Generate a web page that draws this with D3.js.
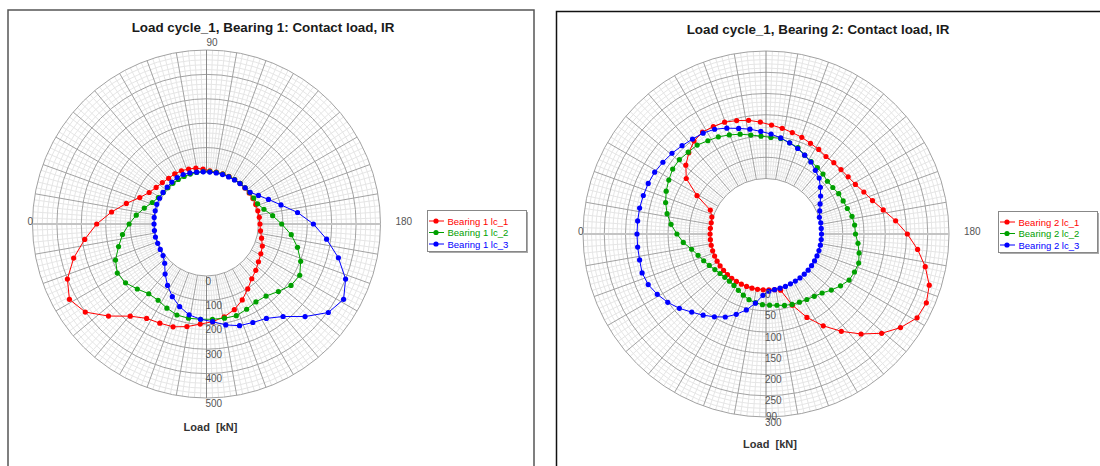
<!DOCTYPE html>
<html>
<head>
<meta charset="utf-8">
<script src="https://cdn.jsdelivr.net/npm/d3@7"></script>
<style>
body { margin: 0; background: #fff; }
text { font-family: "Liberation Sans", Arial, sans-serif; }
</style>
</head>
<body>
<script>
var w = 1100;
var h = 466;

// Bearing 1: roller angle (deg) and contact load (kN)
var b1Angles = [0,7.2,14.4,21.6,28.8,36,43.2,50.4,57.6,64.8,72,79.2,86.4,93.6,100.8,108,115.2,122.4,129.6,136.8,
  144,151.2,158.4,165.6,172.8,180,187.2,194.4,201.6,208.8,216,223.2,230.4,237.6,244.8,252,259.2,266.4,273.6,280.8,
  288,295.2,302.4,309.6,316.8,324,331.2,338.4,345.6,352.8];
var b1Lc1 = [237,179,126,81,55,42,35,30,30,28,24,20,12,5,3,3,3,3,3,3,
  3,4,4,4,5,6,10,20,33,41,50,64,78,102,131,156,174,188,198,215,
  230,236,245,277,338,401,428,400,349,290];
var b1Lc2 = [104,77,50,26,12,6,4,3,3,2,2,2,2,2,2,2,2,2,3,4,
  6,8,12,30,60,95,137,172,202,223,215,191,170,165,173,182,180,178,178,180,
  179,168,157,158,176,197,204,188,159,134];
var b1Lc3 = [2,3,4,6,6,7,8,10,12,11,7,3,1,0,0,0,0,1,2,4,
  8,30,60,102,163,225,283,345,400,428,404,341,279,245,233,225,208,188,178,166,
  143,116,85,53,22,7,3,2,3,2];
var b1Ticks = [0,100,200,300,400,500];

// Bearing 2
var b2Angles = [0,5.81,11.61,17.42,23.23,29.03,34.84,40.65,46.45,52.26,58.06,63.87,69.68,75.48,81.29,87.1,92.9,98.71,104.52,110.32,
  116.13,121.94,127.74,133.55,139.35,145.16,150.97,156.77,162.58,168.39,174.19,180,185.81,191.61,197.42,203.23,209.03,214.84,220.65,226.45,
  232.26,238.06,243.87,249.68,255.48,261.29,267.1,272.9,278.71,284.52,290.32,296.13,301.94,307.74,313.55,319.35,325.16,330.97,336.77,342.58,
  348.39,354.19];
var b2Lc1 = [1,1,1,1,1,1,1,1,1,1,1,1,1,1,1,1,1,2,6,48,
  88,124,159,194,228,255,276,280,272,252,228,202,176,151,132,120,110,105,102,101,
  100,104,107,112,116,121,126,133,140,145,150,151,152,146,133,118,98,55,12,3,
  1,1];
var b2Lc2 = [79,65,48,37,29,22,16,12,10,10,12,17,23,29,33,36,37,39,43,46,
  48,51,55,61,72,83,93,96,98,93,87,80,79,76,70,67,65,61,60,64,
  67,70,76,86,91,97,97,100,105,112,118,124,128,134,135,138,137,131,125,117,
  107,94];
var b2Lc3 = [173,173,173,175,171,162,151,138,123,111,99,87,71,54,34,14,4,2,1,1,
  0,0,0,0,0,0,0,0,0,0,0,0,0,1,1,7,15,26,38,51,
  59,69,76,84,91,98,105,111,119,126,135,144,149,152,156,161,165,169,171,172,
  173,173];
var b2Ticks = [0,50,100,150,200,250,300];

var colors = ["#ff0000", "#00a000", "#0000ff"];

var svg = d3.select("body")
            .append("svg")
              .attr("width", w)
              .attr("height", h);

// panel frames
svg.append("rect").attr("x", 8).attr("y", 10).attr("width", 526).attr("height", 480)
  .attr("fill", "#fff").attr("stroke", "#555").attr("stroke-width", 1.5);
svg.append("rect").attr("x", 556.5).attr("y", 11.5).attr("width", 600).attr("height", 480)
  .attr("fill", "#fff").attr("stroke", "#111").attr("stroke-width", 1.5);

function polarChart(o) {
  var g = svg.append("g");
  var r = d3.scaleLinear().domain([0, o.max]).range([o.r0, o.r1]);

  function pt(a, v) {
    var t = a * Math.PI / 180;
    return [o.cx - r(v) * Math.cos(t), o.cy + o.dir * r(v) * Math.sin(t)];
  }
  function spoke(a) {
    var p0 = pt(a, 0), p1 = pt(a, o.max);
    return "M" + p0[0] + "," + p0[1] + "L" + p1[0] + "," + p1[1];
  }

  var minorVals = d3.range(0, o.max + 1, o.minor).filter(function(v) { return v % o.major !== 0; });
  var minorAng = d3.range(0, 360, 2).filter(function(a) { return a % 10 !== 0; });
  var majorAng = d3.range(0, 360, 10).filter(function(a) { return a % 90 !== 0; });

  g.selectAll(".mc").data(minorVals).enter().append("circle")
    .attr("cx", o.cx).attr("cy", o.cy).attr("r", function(d) { return r(d); })
    .attr("fill", "none").attr("stroke", "#e6e6e6").attr("stroke-width", 1);
  g.selectAll(".ms").data(minorAng).enter().append("path")
    .attr("d", spoke).attr("stroke", "#e6e6e6").attr("stroke-width", 1);
  g.selectAll(".Mc").data(o.ticks).enter().append("circle")
    .attr("cx", o.cx).attr("cy", o.cy).attr("r", function(d) { return r(d); })
    .attr("fill", "none").attr("stroke", "#a2a2a2").attr("stroke-width", 1);
  g.selectAll(".Ms").data(majorAng).enter().append("path")
    .attr("d", spoke).attr("stroke", "#a2a2a2").attr("stroke-width", 1);
  // horizontal axis (0 / 180) and vertical axis (90 / 270)
  g.selectAll(".hx").data([0, 180]).enter().append("path")
    .attr("d", spoke).attr("stroke", "#c4c4c4").attr("stroke-width", 2);
  g.selectAll(".vx").data([90, 270]).enter().append("path")
    .attr("d", spoke).attr("stroke", "#888").attr("stroke-width", 1);

  var line = d3.line().curve(d3.curveLinearClosed);
  o.series.forEach(function(s, i) {
    var pts = o.angles.map(function(a, k) { return pt(a, s[k]); });
    g.append("path").attr("d", line(pts))
      .attr("fill", "none").attr("stroke", colors[i]).attr("stroke-width", 1);
    g.selectAll(".dot" + i).data(pts).enter().append("circle")
      .attr("cx", function(d) { return d[0]; })
      .attr("cy", function(d) { return d[1]; })
      .attr("r", 2.6).attr("fill", colors[i]);
  });

  // radial tick labels along the lower vertical axis
  g.selectAll(".rl").data(o.ticks).enter().append("text")
    .attr("x", o.cx - 1).attr("y", function(d) { return o.cy + r(d) + 8.5; })
    .attr("font-size", 10).attr("fill", "#555")
    .text(function(d) { return d; });

  // angle labels
  g.append("text").attr("x", o.cx - o.r1 + 0.5).attr("y", o.cy + 1)
    .attr("text-anchor", "end").attr("font-size", 10).attr("fill", "#555").text("0");
  g.append("text").attr("x", o.cx + o.r1 + 15).attr("y", o.cy + 1)
    .attr("font-size", 10).attr("fill", "#555").text("180");
  g.append("text").attr("x", o.cx).attr("y", o.dir < 0 ? o.cy - o.r1 - 4 : o.cy + o.r1 + 3)
    .attr("font-size", 10).attr("fill", "#555").text("90");

  g.append("text").attr("x", o.titleX).attr("y", o.titleY)
    .attr("text-anchor", "middle").attr("font-size", 13.4).attr("font-weight", "bold")
    .attr("fill", "#1a1a1a").text(o.title);
  g.append("text").attr("x", o.cx + 4).attr("y", o.cy + o.r1 + o.loadDy)
    .attr("text-anchor", "middle").attr("font-size", 11).attr("font-weight", "bold")
    .attr("fill", "#333").attr("xml:space", "preserve").text("Load  [kN]");

  // legend
  var lg = g.append("g").attr("transform", "translate(" + o.legX + "," + o.legY + ")");
  lg.append("rect").attr("x", 2).attr("y", 2).attr("width", 99).attr("height", 41).attr("fill", "#aaa");
  lg.append("rect").attr("x", 0.5).attr("y", 0.5).attr("width", 99).attr("height", 41)
    .attr("fill", "#fff").attr("stroke", "#888");
  o.names.forEach(function(n, i) {
    var y = 11 + i * 11.5;
    lg.append("line").attr("x1", 2).attr("x2", 17).attr("y1", y).attr("y2", y)
      .attr("stroke", colors[i]);
    lg.append("circle").attr("cx", 9).attr("cy", y).attr("r", 2.6).attr("fill", colors[i]);
    lg.append("text").attr("x", 20.5).attr("y", y + 3.5).attr("font-size", 9.5)
      .attr("fill", colors[i]).text(n);
  });
}

polarChart({
  cx: 206.5, cy: 224, r0: 52, r1: 174, max: 500, major: 100, minor: 20, dir: -1,
  ticks: b1Ticks, angles: b1Angles, series: [b1Lc1, b1Lc2, b1Lc3],
  names: ["Bearing 1 lc_1", "Bearing 1 lc_2", "Bearing 1 lc_3"],
  title: "Load cycle_1, Bearing 1: Contact load, IR", titleX: 263, titleY: 32,
  loadDy: 33, legX: 427, legY: 210
});

polarChart({
  cx: 766, cy: 234, r0: 55.5, r1: 183, max: 300, major: 50, minor: 10, dir: 1,
  ticks: b2Ticks, angles: b2Angles, series: [b2Lc1, b2Lc2, b2Lc3],
  names: ["Bearing 2 lc_1", "Bearing 2 lc_2", "Bearing 2 lc_3"],
  title: "Load cycle_1, Bearing 2: Contact load, IR", titleX: 818, titleY: 34,
  loadDy: 31, legX: 998, legY: 211
});
</script>
</body>
</html>
